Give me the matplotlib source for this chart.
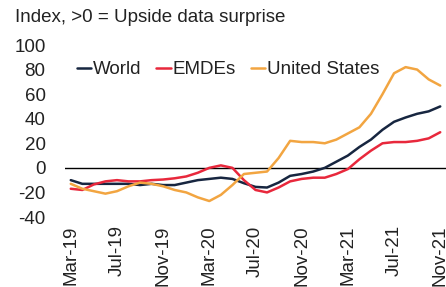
import matplotlib
matplotlib.use("Agg")
import matplotlib.pyplot as plt
import numpy as np

months = ["Mar-19","Apr-19","May-19","Jun-19","Jul-19","Aug-19","Sep-19","Oct-19","Nov-19","Dec-19",
          "Jan-20","Feb-20","Mar-20","Apr-20","May-20","Jun-20","Jul-20","Aug-20","Sep-20","Oct-20",
          "Nov-20","Dec-20","Jan-21","Feb-21","Mar-21","Apr-21","May-21","Jun-21","Jul-21","Aug-21",
          "Sep-21","Oct-21","Nov-21"]
world = [-10, -13, -13, -13, -13, -13, -14, -13, -14, -14, -12, -10, -9, -8, -9, -12.5, -15.5, -16,
         -12, -6.5, -5, -3, 0, 5, 10, 17, 23, 31, 37.5, 41, 44, 46, 50]
emdes = [-17, -18, -13.5, -11, -10, -11, -11, -10, -9.5, -8.5, -7, -4, 0, 2, 0, -10, -18, -20,
         -16, -11, -9, -8, -8, -5, -1, 7, 14, 20, 21, 21, 22, 24, 29]
us = [-13, -17, -19, -21, -19, -15, -12, -13, -15, -18, -20, -24, -27, -22, -14, -5, -4, -3,
      8, 22, 21, 21, 20, 23, 28, 33, 44, 60, 77, 82, 80, 72, 67]
series_names = ["World", "EMDEs", "United States"]
tick_labels = ["Mar-19","Jul-19","Nov-19","Mar-20","Jul-20","Nov-20","Mar-21","Jul-21","Nov-21"]
y_ticks = [100, 80, 60, 40, 20, 0, -20, -40]
title = "Index, >0 = Upside data surprise"

colors = ["#172640", "#e8283c", "#f2a541"]
FONT = "Liberation Sans"
FS = 13.5

fig = plt.figure(figsize=(4.46, 2.87), dpi=100)
ax = fig.add_axes([65/446, (287-217)/287, 1 - 65/446, (217-45)/287])

x = np.arange(len(months))
for vals, name, c in zip([world, emdes, us], series_names, colors):
    ax.plot(x, vals, color=c, lw=1.8, label=name, solid_capstyle="round")
ax.axhline(0, color="black", lw=1.0, zorder=0)

ax.set_xlim(-0.5, 32.5)
ax.set_ylim(-40, 100)
ax.set_yticks(y_ticks)
ax.set_yticklabels([str(v) for v in y_ticks], fontfamily=FONT, fontsize=FS)
tick_pos = [months.index(t) for t in tick_labels]
ax.set_xticks(tick_pos)
ax.set_xticklabels(tick_labels, rotation=90, fontfamily=FONT, fontsize=FS)
ax.tick_params(length=0, pad=14, axis="y", colors="#222222")
ax.tick_params(length=0, pad=6, axis="x", colors="#222222")
for s in ax.spines.values():
    s.set_visible(False)

fig.text(15/446, 1 - 18/287, title, ha="left", va="center", fontfamily=FONT, fontsize=FS, color="#222222")

leg = ax.legend(loc="center left", bbox_to_anchor=(12/381, (80 + 40) / 140), frameon=False, ncol=3,
                handlelength=0.75, handletextpad=0.1, columnspacing=0.8, borderaxespad=0, borderpad=0,
                prop={"family": FONT, "size": FS})
for t in leg.get_texts():
    t.set_color("#222222")

fig.savefig("out.png", dpi=100)
